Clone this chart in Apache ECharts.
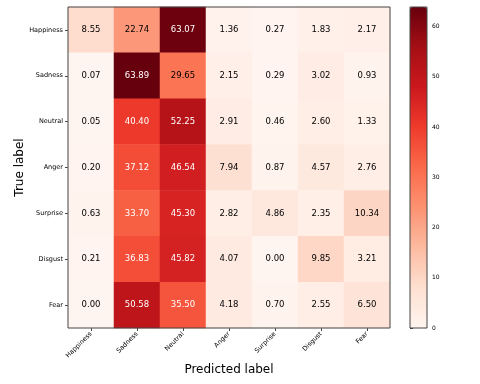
<!DOCTYPE html>
<html><head><meta charset="utf-8">
<script src="https://cdn.jsdelivr.net/npm/echarts@6/dist/echarts.min.js"></script>
<style>html,body{margin:0;padding:0;background:#fff}#c{width:480px;height:384px}</style>
</head><body><div id="c"></div>
<script>
const categories = ['Happiness','Sadness','Neutral','Anger','Surprise','Disgust','Fear'];
const rowHappiness = [8.55, 22.74, 63.07, 1.36, 0.27, 1.83, 2.17];
const rowSadness   = [0.07, 63.89, 29.65, 2.15, 0.29, 3.02, 0.93];
const rowNeutral   = [0.05, 40.40, 52.25, 2.91, 0.46, 2.60, 1.33];
const rowAnger     = [0.20, 37.12, 46.54, 7.94, 0.87, 4.57, 2.76];
const rowSurprise  = [0.63, 33.70, 45.30, 2.82, 4.86, 2.35, 10.34];
const rowDisgust   = [0.21, 36.83, 45.82, 4.07, 0.00, 9.85, 3.21];
const rowFear      = [0.00, 50.58, 35.50, 4.18, 0.70, 2.55, 6.50];
const colorbarTicks = [0, 10, 20, 30, 40, 50, 60];

const rows = [rowHappiness,rowSadness,rowNeutral,rowAnger,rowSurprise,rowDisgust,rowFear];
let vmax = 0;
rows.forEach(r => r.forEach(v => { if (v > vmax) vmax = v; }));
const thr = vmax / 2;
const data = [];
rows.forEach((r, i) => r.forEach((v, j) => {
  data.push({ value: [j, i, v], label: { color: v > thr ? '#ffffff' : '#000000' } });
}));

const font = 'DejaVu Sans';
const chart = echarts.init(document.getElementById('c'), null, { renderer: 'canvas' });
chart.setOption({
  animation: false,
  backgroundColor: '#fff',
  grid: [
    { left: 68, top: 7, width: 322, height: 321, show: true, borderColor: '#444', borderWidth: 1, backgroundColor: 'transparent', z: 10, outerBoundsMode: 'none', containLabel: false },
    { left: 410, top: 7, width: 17, height: 321, show: true, borderColor: '#444', borderWidth: 1, backgroundColor: 'transparent', z: 10, outerBoundsMode: 'none', containLabel: false }
  ],
  xAxis: [
    { type: 'category', data: categories, gridIndex: 0,
      axisLine: { show: false },
      axisTick: { show: true, alignWithLabel: true, length: 3, lineStyle: { color: '#444' } },
      axisLabel: { rotate: 45, fontSize: 6.5, fontFamily: font, color: '#000', margin: 5 },
      splitLine: { show: false },
      name: 'Predicted label', nameLocation: 'middle', nameGap: 42, nameMoveOverlap: false,
      nameTextStyle: { fontSize: 12, fontFamily: font, color: '#000', verticalAlign: 'middle' } },
    { type: 'value', gridIndex: 1, show: false, min: 0, max: 1 }
  ],
  yAxis: [
    { type: 'category', data: categories, inverse: true, gridIndex: 0,
      axisLine: { show: false },
      axisTick: { show: true, alignWithLabel: true, length: 3, lineStyle: { color: '#444' } },
      axisLabel: { fontSize: 6.5, fontFamily: font, color: '#000', margin: 5 },
      splitLine: { show: false },
      name: 'True label', nameLocation: 'middle', nameGap: 48, nameRotate: 90, nameMoveOverlap: false,
      nameTextStyle: { fontSize: 12, fontFamily: font, color: '#000', verticalAlign: 'middle' } },
    { type: 'value', gridIndex: 1, position: 'right', min: 0, max: vmax,
      axisLine: { show: false },
      splitLine: { show: false },
      axisTick: { show: true, length: 3, lineStyle: { color: '#444' }, customValues: colorbarTicks },
      axisLabel: { fontSize: 6, fontFamily: font, color: '#000', margin: 5, customValues: colorbarTicks } }
  ],
  visualMap: {
    type: 'continuous', min: 0, max: vmax, seriesIndex: 0,
    show: true, calculable: false, left: 410, top: 7, padding: 0,
    itemWidth: 17, itemHeight: 321, text: null, showLabel: false, hoverLink: false,
    inRange: { color: ['#fff5f0','#fee0d2','#fcbba1','#fc9272','#fb6a4a','#ef3b2c','#cb181d','#a50f15','#67000d'] }
  },
  series: [{
    type: 'heatmap', xAxisIndex: 0, yAxisIndex: 0, data: data,
    label: { show: true, fontSize: 8.5, fontFamily: font,
      formatter: p => p.value[2].toFixed(2) },
    itemStyle: { borderWidth: 0 },
    emphasis: { disabled: true }
  }]
});
</script></body></html>
